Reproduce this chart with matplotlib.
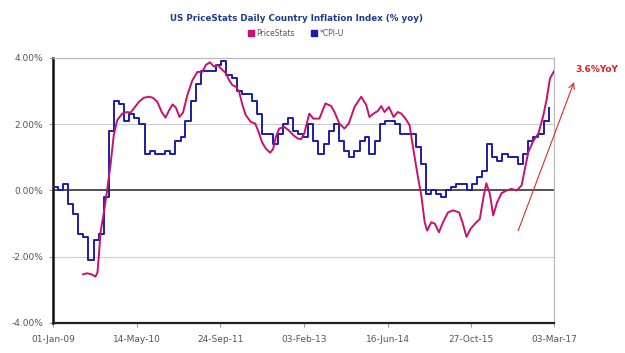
import numpy as np
import pandas as pd
import matplotlib
matplotlib.use('Agg')
import matplotlib.pyplot as plt
import matplotlib.dates as mdates
from matplotlib.lines import Line2D

# DATOS
# PriceStats (diaria)
ps_fechas = ['2009-06-29', '2009-07-23', '2009-08-18', '2009-09-11', '2009-09-23',
             '2009-10-01', '2009-10-11', '2009-10-31', '2009-11-19', '2009-12-09',
             '2009-12-29', '2010-01-18', '2010-02-17', '2010-03-19', '2010-04-08',
             '2010-05-04', '2010-05-28', '2010-06-26', '2010-07-26', '2010-08-19',
             '2010-09-14', '2010-10-10', '2010-11-02', '2010-11-23', '2010-12-14',
             '2011-01-03', '2011-01-24', '2011-02-14', '2011-03-12', '2011-04-11',
             '2011-05-11', '2011-06-09', '2011-06-30', '2011-07-24', '2011-08-18',
             '2011-09-07', '2011-09-27', '2011-10-27', '2011-11-16', '2011-12-05',
             '2011-12-26', '2012-01-14', '2012-02-03', '2012-02-23', '2012-03-24',
             '2012-04-19', '2012-05-09', '2012-05-29', '2012-06-22', '2012-07-17',
             '2012-08-04', '2012-08-20', '2012-09-09', '2012-10-09', '2012-11-04',
             '2012-12-02', '2012-12-28', '2013-01-17', '2013-02-05', '2013-03-07',
             '2013-03-31', '2013-05-06', '2013-06-11', '2013-07-15', '2013-08-04',
             '2013-09-02', '2013-10-02', '2013-10-28', '2013-12-01', '2014-01-10',
             '2014-02-09', '2014-02-28', '2014-03-24', '2014-04-19', '2014-05-09',
             '2014-05-29', '2014-06-24', '2014-07-22', '2014-08-16', '2014-09-06',
             '2014-10-01', '2014-10-25', '2014-11-18', '2014-12-14', '2015-01-03',
             '2015-01-23', '2015-02-07', '2015-03-03', '2015-03-24', '2015-04-18',
             '2015-05-12', '2015-06-11', '2015-07-11', '2015-08-16', '2015-09-05',
             '2015-09-29', '2015-10-23', '2015-11-17', '2015-12-17', '2016-01-10',
             '2016-01-25', '2016-02-15', '2016-03-06', '2016-03-30', '2016-04-25',
             '2016-05-25', '2016-06-23', '2016-07-23', '2016-08-22', '2016-09-11',
             '2016-10-01', '2016-10-31', '2016-11-30', '2016-12-29', '2017-01-18',
             '2017-02-07', '2017-03-03']
ps_valores = [-2.53, -2.50, -2.53, -2.60, -2.47,
              -1.97, -1.26, -0.66, 0.00, 0.76,
              1.67, 2.12, 2.32, 2.37, 2.35,
              2.52, 2.68, 2.80, 2.83, 2.80,
              2.68, 2.37, 2.20, 2.42, 2.60,
              2.50, 2.22, 2.35, 2.88, 3.33,
              3.58, 3.58, 3.79, 3.87, 3.74,
              3.79, 3.69, 3.54, 3.33, 3.18,
              3.13, 2.98, 2.58, 2.27, 2.07,
              2.02, 1.77, 1.46, 1.26, 1.14,
              1.26, 1.62, 1.87, 1.92, 1.82,
              1.67, 1.57, 1.55, 1.72, 2.32,
              2.17, 2.17, 2.63, 2.55, 2.37,
              2.02, 1.87, 2.02, 2.52, 2.83,
              2.58, 2.22, 2.32, 2.40, 2.55,
              2.37, 2.52, 2.22, 2.37, 2.32,
              2.17, 1.97, 1.20, 0.40, -0.15,
              -0.96, -1.21, -0.96, -1.00, -1.26,
              -0.96, -0.66, -0.60, -0.66, -0.96,
              -1.40, -1.16, -1.01, -0.86, -0.15,
              0.22, -0.10, -0.75, -0.35, -0.08,
              0.00, 0.05, 0.00, 0.15, 0.66,
              1.16, 1.50, 1.72, 2.25, 2.75,
              3.38, 3.60]

# CPI-U mensual (dic-2008 a ene-2017), fin de mes
cpi_inicio = '2008-12-31'
cpi_valores = [0.1,
               0.0, 0.2, -0.4, -0.7, -1.3, -1.4, -2.1, -1.5, -1.3, -0.2, 1.8, 2.7,
               2.6, 2.1, 2.3, 2.2, 2.0, 1.1, 1.2, 1.1, 1.1, 1.2, 1.1, 1.5,
               1.6, 2.1, 2.7, 3.2, 3.6, 3.6, 3.6, 3.8, 3.9, 3.5, 3.4, 3.0,
               2.9, 2.9, 2.7, 2.3, 1.7, 1.7, 1.4, 1.7, 2.0, 2.2, 1.8, 1.7,
               1.6, 2.0, 1.5, 1.1, 1.4, 1.8, 2.0, 1.5, 1.2, 1.0, 1.2, 1.5,
               1.6, 1.1, 1.5, 2.0, 2.1, 2.1, 2.0, 1.7, 1.7, 1.7, 1.3, 0.8,
               -0.1, 0.0, -0.1, -0.2, 0.0, 0.1, 0.2, 0.2, 0.0, 0.2, 0.4, 0.6,
               1.4, 1.0, 0.9, 1.1, 1.0, 1.0, 0.8, 1.1, 1.5, 1.6, 1.7, 2.1,
               2.5]

xticks = ['2009-01-01', '2010-05-14', '2011-09-24', '2013-02-03',
          '2014-06-16', '2015-10-27', '2017-03-03']
yticks = [-4, -2, 0, 2, 4]

titulo = 'US PriceStats Daily Country Inflation Index (% yoy)'
serie1 = 'PriceStats'
serie2 = '*CPI-U'
nota = '3.6%YoY'
flecha_ini = ('2016-07-27', -1.29)
flecha_fin = ('2017-07-06', 3.35)
nota_pos = ('2017-11-15', 3.64)

# PROCEDIMIENTO
ps_x = pd.to_datetime(ps_fechas)
cpi_x = pd.date_range(cpi_inicio, periods=len(cpi_valores), freq='ME')

rosa = '#c8116f'
azul = '#1c1ca8'
gris = '#555555'

#GRAFICA
fig = plt.figure(figsize=(6.25, 3.53), dpi=100)
ax = fig.add_axes([0.0848, 0.085, 0.8016, 0.7507])

ax.plot(cpi_x, cpi_valores, color=azul, lw=1.4, drawstyle='steps-post', zorder=3)
ax.plot(ps_x, ps_valores, color=rosa, lw=1.4, zorder=4)

ax.set_xlim(pd.Timestamp(xticks[0]), pd.Timestamp(xticks[-1]))
ax.set_ylim(-4, 4)
ax.set_xticks(pd.to_datetime(xticks))
ax.xaxis.set_major_formatter(mdates.DateFormatter('%d-%b-%y'))
ax.set_yticks(yticks)
ax.set_yticklabels(['%.2f%%' % v for v in yticks])

for v in yticks:
    if v == 0:
        ax.axhline(v, color='#222222', lw=1.1, zorder=2)
    elif abs(v) < 4:
        ax.axhline(v, color='#cccccc', lw=0.8, zorder=1)

ax.spines['left'].set_color('#111111')
ax.spines['left'].set_linewidth(1.8)
ax.spines['bottom'].set_color('#222222')
ax.spines['bottom'].set_linewidth(1.6)
ax.spines['top'].set_color('#bbbbbb')
ax.spines['top'].set_linewidth(0.9)
ax.spines['right'].set_color('#bbbbbb')
ax.spines['right'].set_linewidth(0.9)

ax.tick_params(axis='both', colors='#999999', labelcolor=gris, labelsize=6.5,
               length=3, width=0.7)
ax.tick_params(axis='x', pad=6)
ax.tick_params(axis='y', pad=4)

ax.annotate('', xy=(pd.Timestamp(flecha_fin[0]), flecha_fin[1]),
            xytext=(pd.Timestamp(flecha_ini[0]), flecha_ini[1]),
            arrowprops=dict(arrowstyle='->', color='#e02a2a', lw=0.8),
            annotation_clip=False)
ax.text(pd.Timestamp(nota_pos[0]), nota_pos[1], nota, color='#e02020',
        fontsize=6.5, fontweight='bold', ha='center', va='center', clip_on=False)

fig.text(0.4736, 0.949, titulo, color='#1f3c8c', fontsize=6.3, fontweight='bold',
         ha='center', va='center')

manejadores = [Line2D([], [], marker='s', ls='none', color=rosa, markersize=5),
               Line2D([], [], marker='s', ls='none', color=azul, markersize=5)]
ley = fig.legend(manejadores, [serie1, serie2], loc='center',
                 bbox_to_anchor=(0.473, 0.906), ncol=2, frameon=False,
                 fontsize=5.5, handletextpad=0.2, columnspacing=2.0,
                 handlelength=1.0)
for t in ley.get_texts():
    t.set_color(gris)

fig.savefig('out.png', dpi=100)
